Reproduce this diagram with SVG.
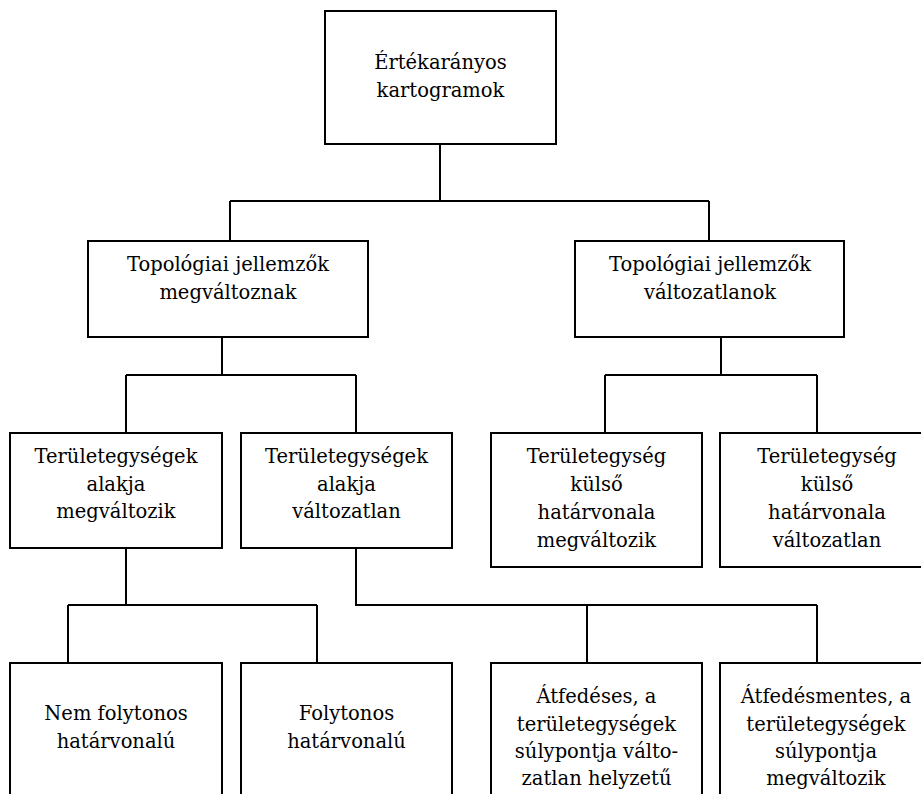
<svg xmlns="http://www.w3.org/2000/svg" width="921" height="794" viewBox="0 0 921 794">
<style>
.box{fill:#fff;stroke:#000;stroke-width:2}
.t{font-family:"DejaVu Serif","Liberation Serif",serif;font-size:19.5px;fill:#000;text-anchor:middle}
.c{fill:none;stroke:#000;stroke-width:2}
</style>
<rect width="921" height="794" fill="#fff"/>
<g id="connectors">
<path class="c" d="M440 144V201M230 201H709M230 201V241M709 201V241"/>
<path class="c" d="M222 337V375M126 375H356M126 375V433M356 375V433"/>
<path class="c" d="M721 337V375M605 375H817M605 375V433M817 375V433"/>
<path class="c" d="M126 548V605M68 605H317M68 605V663M317 605V663"/>
<path class="c" d="M356 548V605H817M587 605V663M817 605V663"/>
</g>
<g id="n-root"><rect class="box" x="325" y="11" width="231" height="133"/>
<text class="t" x="440.5" y="69">Értékarányos</text><text class="t" x="440.5" y="97">kartogramok</text></g>
<g id="n-topo-valt"><rect class="box" x="88" y="241" width="280" height="96"/>
<text class="t" x="228" y="271">Topológiai jellemzők</text><text class="t" x="228" y="299">megváltoznak</text></g>
<g id="n-topo-vlt"><rect class="box" x="575" y="241" width="269" height="96"/>
<text class="t" x="710" y="271">Topológiai jellemzők</text><text class="t" x="710" y="299">változatlanok</text></g>
<g id="n-alak-valt"><rect class="box" x="10" y="433" width="212" height="115"/>
<text class="t" x="116" y="463">Területegységek</text><text class="t" x="116" y="491">alakja</text><text class="t" x="116" y="518">megváltozik</text></g>
<g id="n-alak-vlt"><rect class="box" x="241" y="433" width="211" height="115"/>
<text class="t" x="346.5" y="463">Területegységek</text><text class="t" x="346.5" y="491">alakja</text><text class="t" x="346.5" y="518">változatlan</text></g>
<g id="n-kulso-valt"><rect class="box" x="491" y="433" width="211" height="134"/>
<text class="t" x="596.5" y="463">Területegység</text><text class="t" x="596.5" y="491">külső</text><text class="t" x="596.5" y="519">határvonala</text><text class="t" x="596.5" y="547">megváltozik</text></g>
<g id="n-kulso-vlt"><rect class="box" x="720" y="433" width="214" height="134"/>
<text class="t" x="827" y="463">Területegység</text><text class="t" x="827" y="491">külső</text><text class="t" x="827" y="519">határvonala</text><text class="t" x="827" y="547">változatlan</text></g>
<g id="n-nemfoly"><rect class="box" x="10" y="663" width="212" height="150"/>
<text class="t" x="116" y="720">Nem folytonos</text><text class="t" x="116" y="748">határvonalú</text></g>
<g id="n-foly"><rect class="box" x="241" y="663" width="211" height="150"/>
<text class="t" x="346.5" y="720">Folytonos</text><text class="t" x="346.5" y="748">határvonalú</text></g>
<g id="n-atfed"><rect class="box" x="491" y="663" width="211" height="150"/>
<text class="t" x="596.5" y="703">Átfedéses, a</text><text class="t" x="596.5" y="731">területegységek</text><text class="t" x="596.5" y="758">súlypontja válto-</text><text class="t" x="596.5" y="785">zatlan helyzetű</text></g>
<g id="n-atfedm"><rect class="box" x="720" y="663" width="214" height="150"/>
<text class="t" x="826" y="703">Átfedésmentes, a</text><text class="t" x="826" y="731">területegységek</text><text class="t" x="826" y="758">súlypontja</text><text class="t" x="826" y="785">megváltozik</text></g>
</svg>
